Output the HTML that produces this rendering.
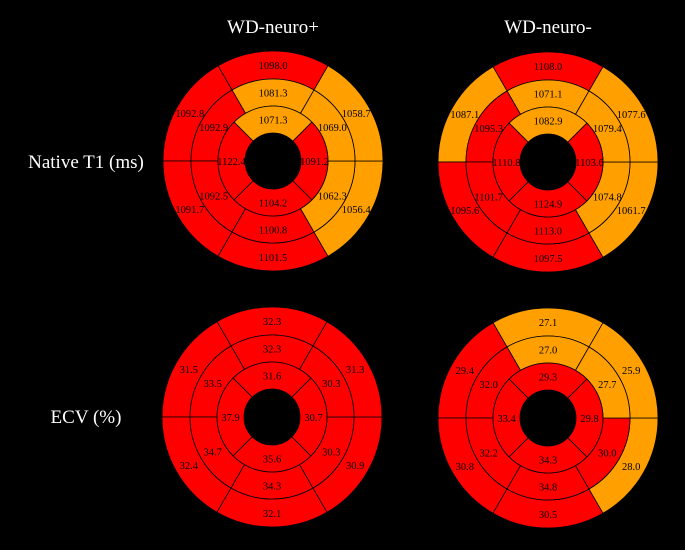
<!DOCTYPE html>
<html><head><meta charset="utf-8">
<style>
html,body{margin:0;padding:0;background:#000;}
svg{display:block;}
text{font-family:"Liberation Serif",serif;}
</style></head>
<body>
<svg id="c" width="685" height="550" viewBox="0 0 685 550">
<rect width="685" height="550" fill="#000"/>
<text x="273" y="33" font-size="19" fill="#fff" text-anchor="middle">WD-neuro+</text>
<text x="548" y="33" font-size="19" fill="#fff" text-anchor="middle">WD-neuro-</text>
<text x="86" y="168" font-size="19" fill="#fff" text-anchor="middle">Native T1 (ms)</text>
<text x="86" y="423" font-size="19" fill="#fff" text-anchor="middle">ECV (%)</text>
</svg>
<script>
// Segment order per ring: outer/mid = [top, upper-left, lower-left, bottom, lower-right, upper-right]; inner = [top, left, bottom, right]
const t1PlusOuter = [1098.0, 1092.8, 1091.7, 1101.5, 1056.4, 1058.7];
const t1PlusMid   = [1081.3, 1092.9, 1092.5, 1100.8, 1062.3, 1069.0];
const t1PlusInner = [1071.3, 1122.4, 1104.2, 1091.2];
const t1MinusOuter = [1108.0, 1087.1, 1095.6, 1097.5, 1061.7, 1077.6];
const t1MinusMid   = [1071.1, 1095.3, 1101.7, 1113.0, 1074.8, 1079.4];
const t1MinusInner = [1082.9, 1110.8, 1124.9, 1103.6];
const ecvPlusOuter = [32.3, 31.5, 32.4, 32.1, 30.9, 31.3];
const ecvPlusMid   = [32.3, 33.5, 34.7, 34.3, 30.3, 30.3];
const ecvPlusInner = [31.6, 37.9, 35.6, 30.7];
const ecvMinusOuter = [27.1, 29.4, 30.8, 30.5, 28.0, 25.9];
const ecvMinusMid   = [27.0, 32.0, 32.2, 34.8, 30.0, 27.7];
const ecvMinusInner = [29.3, 33.4, 34.3, 29.8];
const t1Threshold = 1090;
const ecvThreshold = 29;

const svg = document.getElementById('c');
const NS = 'http://www.w3.org/2000/svg';
const R = [28, 55, 82, 110];

function pt(cx, cy, r, deg) {
  const a = deg * Math.PI / 180;
  return [cx + r * Math.cos(a), cy - r * Math.sin(a)];
}
function sector(cx, cy, r0, r1, a0, a1) {
  const p1 = pt(cx, cy, r1, a0), p2 = pt(cx, cy, r1, a1), p3 = pt(cx, cy, r0, a1), p4 = pt(cx, cy, r0, a0);
  return `M${p1[0]},${p1[1]} A${r1},${r1} 0 0 0 ${p2[0]},${p2[1]} L${p3[0]},${p3[1]} A${r0},${r0} 0 0 1 ${p4[0]},${p4[1]} Z`;
}
function ring(g, name, cx, cy, r0, r1, vals, startDeg, span, thr) {
  vals.forEach((v, i) => {
    const mid = startDeg + i * span;
    const p = document.createElementNS(NS, 'path');
    p.setAttribute('d', sector(cx, cy, r0, r1, mid - span / 2, mid + span / 2));
    p.setAttribute('fill', v >= thr ? '#ff0000' : '#ffa000');
    p.setAttribute('stroke', '#000');
    p.setAttribute('stroke-width', '0.8');
    
    
    g.appendChild(p);
    const lp = pt(cx, cy, (r0 + r1) / 2, mid);
    const t = document.createElementNS(NS, 'text');
    t.setAttribute('x', lp[0]);
    t.setAttribute('y', lp[1] + 4);
    t.setAttribute('text-anchor', 'middle');
    t.setAttribute('font-size', '10.5');
    t.setAttribute('fill', '#000');
    t.textContent = v.toFixed(1);
    
    
    g.appendChild(t);
  });
}
function bullseye(name, cx, cy, outer, mid, inner, thr) {
  const g = document.createElementNS(NS, 'g');
  
  
  svg.appendChild(g);
  ring(g, name + '-basal', cx, cy, R[2], R[3], outer, 90, 60, thr);
  ring(g, name + '-mid', cx, cy, R[1], R[2], mid, 90, 60, thr);
  ring(g, name + '-apical', cx, cy, R[0], R[1], inner, 90, 90, thr);
  const h = document.createElementNS(NS, 'circle');
  h.setAttribute('cx', cx); h.setAttribute('cy', cy); h.setAttribute('r', R[0]);
  h.setAttribute('fill', '#000');
  
  
  g.appendChild(h);
}
bullseye('t1-wd-neuro-plus', 273, 161, t1PlusOuter, t1PlusMid, t1PlusInner, t1Threshold);
bullseye('t1-wd-neuro-minus', 548, 162, t1MinusOuter, t1MinusMid, t1MinusInner, t1Threshold);
bullseye('ecv-wd-neuro-plus', 272, 417, ecvPlusOuter, ecvPlusMid, ecvPlusInner, ecvThreshold);
bullseye('ecv-wd-neuro-minus', 548, 418, ecvMinusOuter, ecvMinusMid, ecvMinusInner, ecvThreshold);
</script>
</body></html>
